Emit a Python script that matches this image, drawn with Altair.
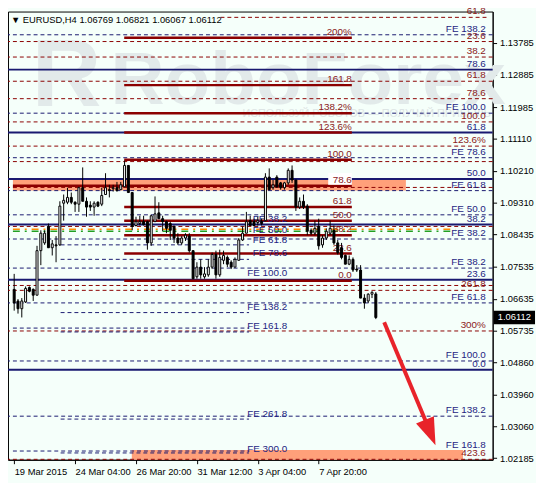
import altair as alt
import pandas as pd

# ---------------- data ----------------
opens = [1.06897, 1.06573, 1.06357, 1.06546, 1.06951, 1.06897, 1.06735, 1.07979, 1.08195, 1.08655,
         1.08060, 1.08141, 1.08141, 1.09304, 1.09331, 1.09466, 1.09331, 1.09277, 1.09737, 1.09358,
         1.09250, 1.09196, 1.09331, 1.09277, 1.09547, 1.09683, 1.09710, 1.09737, 1.09683, 1.09764,
         1.10359, 1.09602, 1.08682, 1.08736, 1.08790, 1.08790, 1.08195, 1.08790, 1.09034, 1.08872,
         1.08790, 1.08736, 1.08655, 1.08331, 1.08195, 1.08331, 1.08385, 1.07979, 1.07249, 1.07519,
         1.07249, 1.07303, 1.07519, 1.07871, 1.07303, 1.07709, 1.07790, 1.07655, 1.07519, 1.07709,
         1.08277, 1.08466, 1.08817, 1.08790, 1.08763, 1.08790, 1.08817, 1.10034, 1.09737, 1.10034,
         1.09872, 1.09737, 1.09872, 1.10223, 1.09953, 1.09196, 1.09358, 1.09223, 1.08547, 1.08466,
         1.08655, 1.08141, 1.08331, 1.08466, 1.08547, 1.08195, 1.08060, 1.07844, 1.07601, 1.07736,
         1.07465, 1.07438, 1.06654, 1.06573, 1.06762, 1.06769]
highs = [1.07330, 1.06627, 1.06654, 1.06979, 1.06979, 1.06924, 1.08114, 1.08547, 1.08547, 1.08736,
         1.08277, 1.08385, 1.09358, 1.09547, 1.09737, 1.09602, 1.09358, 1.09764, 1.10304, 1.09466,
         1.09358, 1.09358, 1.09358, 1.09737, 1.10142, 1.09818, 1.09818, 1.09899, 1.09899, 1.10494,
         1.10359, 1.09602, 1.08926, 1.08953, 1.08953, 1.08817, 1.08980, 1.09493, 1.09331, 1.08953,
         1.08817, 1.08790, 1.08682, 1.08466, 1.08385, 1.08466, 1.08466, 1.07979, 1.07655, 1.07736,
         1.07519, 1.07736, 1.07925, 1.07979, 1.08006, 1.07979, 1.07844, 1.07709, 1.07790, 1.08331,
         1.08655, 1.09061, 1.08953, 1.08872, 1.08926, 1.08872, 1.10142, 1.10277, 1.09953, 1.10088,
         1.09899, 1.09899, 1.10277, 1.10359, 1.09953, 1.09466, 1.09547, 1.09277, 1.08601, 1.08817,
         1.08872, 1.08412, 1.08601, 1.08817, 1.08682, 1.08277, 1.08195, 1.07871, 1.07844, 1.07790,
         1.07574, 1.07574, 1.06762, 1.06789, 1.06843, 1.06821]
lows = [1.06303, 1.06221, 1.06113, 1.06519, 1.06816, 1.06573, 1.06735, 1.07574, 1.08141, 1.08060,
        1.07844, 1.07655, 1.08114, 1.08817, 1.09277, 1.09277, 1.09061, 1.09061, 1.09358, 1.08926,
        1.09088, 1.08953, 1.09196, 1.09223, 1.09547, 1.09466, 1.09629, 1.09629, 1.09683, 1.09764,
        1.09602, 1.08547, 1.08655, 1.08682, 1.08682, 1.08006, 1.08114, 1.08790, 1.08872, 1.08520,
        1.08466, 1.08277, 1.08195, 1.08141, 1.08141, 1.08250, 1.07925, 1.07195, 1.07195, 1.07195,
        1.07195, 1.07249, 1.07465, 1.07195, 1.07249, 1.07601, 1.07519, 1.07465, 1.07519, 1.07709,
        1.08250, 1.08466, 1.08682, 1.08655, 1.08682, 1.08682, 1.08817, 1.09683, 1.09683, 1.09737,
        1.09683, 1.09683, 1.09818, 1.09872, 1.09088, 1.09142, 1.09142, 1.08412, 1.08412, 1.08412,
        1.08006, 1.08060, 1.08277, 1.08412, 1.08141, 1.07871, 1.07736, 1.07601, 1.07574, 1.07384,
        1.07384, 1.06654, 1.06357, 1.06519, 1.06654, 1.06067]
closes = [1.06519, 1.06357, 1.06573, 1.06924, 1.06843, 1.06735, 1.07979, 1.08466, 1.08466, 1.08060,
          1.08168, 1.08114, 1.09223, 1.09385, 1.09466, 1.09331, 1.09277, 1.09737, 1.09358, 1.09196,
          1.09196, 1.09304, 1.09223, 1.09520, 1.09737, 1.09656, 1.09737, 1.09656, 1.09818, 1.10359,
          1.09602, 1.08655, 1.08790, 1.08790, 1.08709, 1.08195, 1.08953, 1.09007, 1.08872, 1.08790,
          1.08601, 1.08547, 1.08331, 1.08195, 1.08331, 1.08412, 1.07979, 1.07195, 1.07519, 1.07303,
          1.07330, 1.07519, 1.07871, 1.07303, 1.07790, 1.07844, 1.07601, 1.07519, 1.07736, 1.08277,
          1.08466, 1.08790, 1.08682, 1.08682, 1.08817, 1.08736, 1.10034, 1.09683, 1.09818, 1.09764,
          1.09737, 1.09872, 1.10223, 1.09953, 1.09196, 1.09358, 1.09196, 1.08520, 1.08466, 1.08601,
          1.08114, 1.08331, 1.08520, 1.08601, 1.08195, 1.07925, 1.07790, 1.07601, 1.07736, 1.07438,
          1.07438, 1.06654, 1.06519, 1.06762, 1.06816, 1.06112]

x_tick_bars = [0, 16, 32, 48, 64, 80]
x_tick_labels = ["19 Mar 2015", "24 Mar 04:00", "26 Mar 20:00", "31 Mar 12:00", "3 Apr 04:00", "7 Apr 20:00"]
price_ticks = [1.13785, 1.12885, 1.11985, 1.11110, 1.10210, 1.09310, 1.08435, 1.07535,
               1.06635, 1.05735, 1.04860, 1.03960, 1.03060, 1.02185]

# horizontal levels (prices)
red_dash_full = [1.13820, 1.13387, 1.12711, 1.12224, 1.11575, 1.10899, 1.10467, 1.09745,
                 1.08655, 1.07006, 1.06870, 1.05735, 1.02150]
red_dash_top = [1.14496]
navy_dash_full = [1.14009, 1.11819, 1.10575, 1.09656, 1.08980, 1.08304, 1.07492, 1.06519,
                  1.04897, 1.03355]
navy_dash_left = [1.05816, 1.02382]
navy_solid_full = [1.13036, 1.11278, 1.09980, 1.08709, 1.07168, 1.04653]
fe2_dash = [1.08141, 1.07736, 1.06249, 1.05708, 1.03274, 1.02328]
orange_level = [1.08574]
green_level = [1.08520]

# fibonacci levels (solid dark red) and their labels
fib_levels = [1.13928, 1.12603, 1.11819, 1.11278, 1.10521, 1.09791, 1.09196, 1.08817, 1.08412, 1.07898, 1.07141]
fib_texts = ["200%", "161.8", "138.2%", "123.6%", "100.0", "78.6", "61.8", "50.0", "38.2", "23.6", "0.0"]
fib_left_ext = [1.09791]
boxed_label_level = [1.09791]

# right-hand labels
right_red_levels = [1.14496, 1.13820, 1.13387, 1.12711, 1.12224, 1.11575, 1.10899, 1.06870, 1.05735, 1.02150]
right_red_texts = ["61.8", "23.6", "38.2", "61.8", "78.6", "100.0", "123.6%", "261.8", "300%", "423.6"]
right_navy_levels = [1.14009, 1.13036, 1.11819, 1.11278, 1.10575, 1.09980, 1.09656, 1.08980, 1.08709,
                     1.08304, 1.07492, 1.07168, 1.06519, 1.04897, 1.04653, 1.03355, 1.02382]
right_navy_texts = ["FE 138.2", "78.6", "FE 100.0", "61.8", "FE 78.6", "50.0", "FE 61.8", "FE 50.0", "38.2",
                    "FE 38.2", "FE 38.2", "23.6", "FE 61.8", "FE 100.0", "0.0", "FE 138.2", "FE 161.8"]

# second FE tool labels
fe2_levels = [1.08709, 1.08385, 1.08114, 1.07736, 1.07195, 1.06249, 1.05708, 1.03247, 1.02274]
fe2_texts = ["FE 38.2", "FE 50.0", "FE 61.8", "FE 78.6", "FE 100.0", "FE 138.2", "FE 161.8", "FE 261.8", "FE 300.0"]

# zones (bar index start/end, price top/bottom)
zone_x0 = [-0.33, 30.9]
zone_x1 = [102.9, 117.9]
zone_top = [1.10007, 1.02409]
zone_bot = [1.09656, 1.02138]

# forecast arrow (bar index, price)
arrow_bar = [97.2, 109.0]
arrow_price = [1.05978, 1.02990]
arrow_head_bar = [109.3]
arrow_head_price = [1.02896]

last_price = [1.06112]
title_text = "\u25BC EURUSD,H4  1.06769 1.06821 1.06067 1.06112"

# ---------------- layout constants ----------------
X0, X1 = -0.33, 124.4
Y0, Y1 = 1.02138, 1.14658
W, H = 492, 455
FIB_START, FIB_END = 28.9, 88.7
FE2_START, FE2_END, FE2_LABEL = 12.2, 61.7, 71.7
LEFT_END = 61.7
TOP_START = 54.2
OR_END = 115.9
RIGHT_LABEL = 123.9

FONT = "Liberation Sans"
NAVY = "#191970"
DRED = "#8B0000"
NAVY_TXT = "#1E1E82"
RED_TXT = "#8B1A1A"
SALMON = "#FFA07A"
BG = "#F5FFFA"
DASH = [4, 3]

xs = alt.Scale(domain=[X0, X1], nice=False, zero=False)
ys = alt.Scale(domain=[Y0, Y1], nice=False, zero=False)

x_expr = " : ".join(f"datum.value == {b} ? '{t}'" for b, t in zip(x_tick_bars, x_tick_labels)) + " : ''"
X_AXIS = alt.Axis(values=x_tick_bars, labelExpr=x_expr, labelAlign="left", labelPadding=3, tickSize=4,
                  grid=False, title=None, labelOverlap=False, labelFlush=False, labelFont=FONT,
                  labelFontSize=9.5, labelColor="black", tickColor="black", domainColor="black")
Y_AXIS = alt.Axis(values=price_ticks, format=".5f", orient="right", tickSize=4, labelPadding=3, grid=False,
                  title=None, labelOverlap=False, labelFlush=False, labelFont=FONT, labelFontSize=9.5,
                  labelColor="black", tickColor="black", domainColor="black")


def xq(f):
    return alt.X(f, type="quantitative", scale=xs, axis=X_AXIS)


def yq(f):
    return alt.Y(f, type="quantitative", scale=ys, axis=Y_AXIS)


# ---------------- layers ----------------
zones = alt.Chart(pd.DataFrame({"x0": zone_x0, "x1": zone_x1, "t": zone_top, "b": zone_bot})).mark_rect(
    color=SALMON, opacity=1).encode(x=xq("x0"), x2=alt.X2("x1"), y=yq("t"), y2=alt.Y2("b"))

WM = "#E2EAEA"
watermark = alt.Chart(pd.DataFrame({"t": ["RoboForex"]})).mark_text(
    font=FONT, fontSize=76, fontWeight="bold", color=WM, align="left", baseline="alphabetic"
).encode(x=alt.value(104), y=alt.value(94), text="t:N")
logo = alt.Chart(pd.DataFrame({"t": ["R"]})).mark_text(
    font=FONT, fontSize=98, fontWeight="bold", color=WM, align="left", baseline="alphabetic"
).encode(x=alt.value(24), y=alt.value(96), text="t:N")
slogan = alt.Chart(pd.DataFrame({"t": ["ИСПОЛЬЗУЙ РОБОТОВ — ПОЛУЧАЙ ПРИБЫЛЬ"]})).mark_text(
    font=FONT, fontSize=11, color="#DDE5E5", align="left", baseline="middle"
).encode(x=alt.value(238), y=alt.value(104), text="t:N")


def full_rules(levels, color, width, dash=None):
    kw = dict(color=color, strokeWidth=width)
    if dash:
        kw["strokeDash"] = dash
    return alt.Chart(pd.DataFrame({"p": levels})).mark_rule(**kw).encode(y=yq("p"))


def seg_rules(levels, x0, x1, color, width, dash=None):
    kw = dict(color=color, strokeWidth=width)
    if dash:
        kw["strokeDash"] = dash
    df = pd.DataFrame({"p": levels, "a": [x0] * len(levels), "b": [x1] * len(levels)})
    return alt.Chart(df).mark_rule(**kw).encode(x=xq("a"), x2=alt.X2("b"), y=yq("p"))


lines = [
    full_rules(red_dash_full, DRED, 1, DASH),
    seg_rules(red_dash_top, TOP_START, X1, DRED, 1, DASH),
    full_rules(navy_dash_full, NAVY, 1, DASH),
    seg_rules(navy_dash_left, X0, LEFT_END, NAVY, 1, DASH),
    seg_rules(fe2_dash, FE2_START, FE2_END, NAVY, 1, DASH),
    seg_rules(orange_level, X0, OR_END, "#FF8C00", 1.5, [7, 5, 2, 5]),
    seg_rules(green_level, X0, OR_END, "#22A022", 1.5, [7, 5, 2, 5]),
    full_rules(navy_solid_full, NAVY, 2),
    seg_rules(fib_levels, FIB_START, FIB_END, DRED, 2.5),
    seg_rules(fib_left_ext, X0, FIB_START, DRED, 2.5),
]

# white box behind the 78.6 label of the fibonacci tool
label_box = alt.Chart(pd.DataFrame({"p": boxed_label_level, "x": [FIB_END]})).mark_point(
    shape="M-1,-0.5L1,-0.5L1,0.5L-1,0.5Z", size=576, filled=True, color="white", opacity=1,
    xOffset=-12, yOffset=-7
).encode(x=xq("x"), y=yq("p"))


def labels(levels, texts, xpos, color, align):
    df = pd.DataFrame({"p": levels, "t": texts, "x": [xpos] * len(levels)})
    return alt.Chart(df).mark_text(font=FONT, fontSize=10, color=color, align=align,
                                   baseline="bottom", dy=-1).encode(x=xq("x"), y=yq("p"), text="t:N")


texts = [
    labels(right_red_levels, right_red_texts, RIGHT_LABEL, RED_TXT, "right"),
    labels(right_navy_levels, right_navy_texts, RIGHT_LABEL, NAVY_TXT, "right"),
    labels(fib_levels, fib_texts, FIB_END, RED_TXT, "right"),
    labels(fe2_levels, fe2_texts, FE2_LABEL, NAVY_TXT, "right"),
]

n = len(opens)
cdf = pd.DataFrame({"i": list(range(n)), "o": opens, "h": highs, "l": lows, "c": closes})
cdf["dir"] = ["up" if c >= o else "down" for o, c in zip(opens, closes)]

wicks = alt.Chart(cdf).mark_rule(color="black", strokeWidth=1).encode(
    x=xq("i"), y=yq("l"), y2=alt.Y2("h"))
bodies = alt.Chart(cdf).mark_bar(size=2, stroke="black", strokeWidth=1).encode(
    x=xq("i"), y=yq("o"), y2=alt.Y2("c"),
    fill=alt.Fill("dir:N", scale=alt.Scale(domain=["up", "down"], range=["white", "black"]), legend=None))

arrow = alt.Chart(pd.DataFrame({"x": arrow_bar, "y": arrow_price, "k": [0, 1]})).mark_line(
    color="#E8232A", strokeWidth=4).encode(x=xq("x"), y=yq("y"), order="k:Q")
head = alt.Chart(pd.DataFrame({"x": arrow_head_bar, "y": arrow_head_price})).mark_point(
    shape="M-0.7,-1L0.7,-1L0,1Z", size=784, angle=337.5, filled=True, color="#E8232A", opacity=1
).encode(x=xq("x"), y=yq("y"))

title = alt.Chart(pd.DataFrame({"t": [title_text]})).mark_text(
    font=FONT, fontSize=9.5, color="black", align="left", baseline="middle"
).encode(x=alt.value(3), y=alt.value(9), text="t:N")

price_box = alt.Chart(pd.DataFrame({"p": last_price})).mark_point(
    shape="M-1,-0.33L1,-0.33L1,0.33L-1,0.33Z", size=1764, filled=True, color="black", opacity=1
).encode(x=alt.value(W + 22), y=yq("p"))
price_txt = alt.Chart(pd.DataFrame({"p": last_price, "t": ["1.06112"]})).mark_text(
    font=FONT, fontSize=9.5, color="white", align="center", baseline="middle"
).encode(x=alt.value(W + 22), y=yq("p"), text="t:N")

chart = alt.layer(
    zones, watermark, logo, slogan, *lines, label_box, *texts, wicks, bodies, arrow, head, title,
    price_box, price_txt
).properties(
    width=W, height=H,
    autosize=alt.AutoSizeParams(type="none"),
    padding={"left": 0, "top": 0, "right": 44, "bottom": 20},
).configure(background=BG).configure_view(stroke="black", strokeWidth=1)

chart.save("out.html", embed_options={"renderer": "svg", "actions": False})
